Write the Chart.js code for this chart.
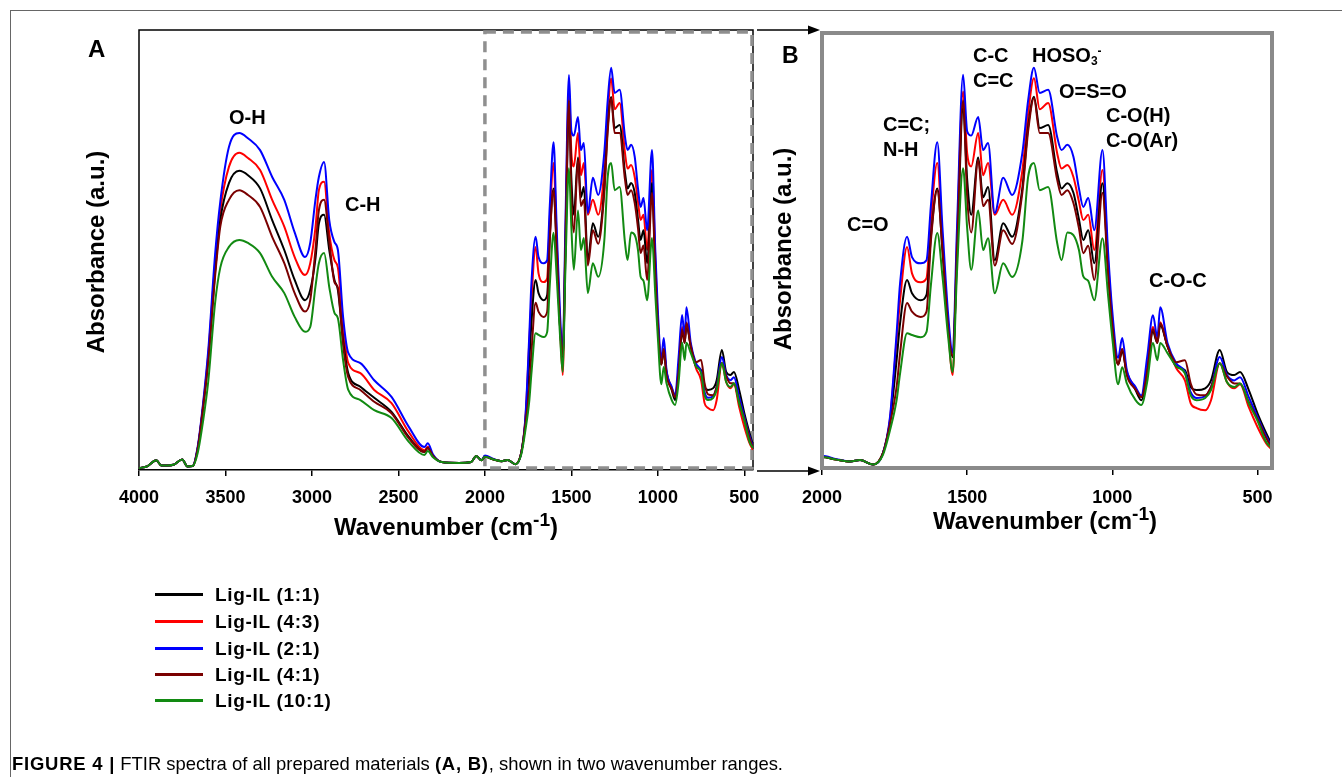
<!DOCTYPE html>
<html><head><meta charset="utf-8">
<script src="https://cdn.jsdelivr.net/npm/chart.js@4.4.1/dist/chart.umd.min.js"></script>
<style>
html,body{margin:0;padding:0;background:#fff;}
#page{position:relative;width:1342px;height:777px;overflow:hidden;background:#fff;font-family:"Liberation Sans",Arial,Helvetica,sans-serif;color:#000;}
canvas{position:absolute;top:0;}
#cA{left:0;}
#cB{left:780px;}
.t{position:absolute;white-space:nowrap;font-weight:bold;line-height:1;}
.rot{position:absolute;white-space:nowrap;font-weight:bold;line-height:1;transform:translate(-50%,-50%) rotate(-90deg);}
.xt{position:absolute;white-space:nowrap;font-weight:bold;line-height:1;transform:translateX(-50%);}
.xt sup{font-size:0.8em;vertical-align:0.45em;line-height:0;}
.sub{font-size:0.6em;vertical-align:-0.25em;}
.sup{font-size:0.6em;vertical-align:0.6em;}
.lg{position:absolute;height:3px;width:48px;left:155px;}
.lgt{letter-spacing:0.7px;}
#caption{position:absolute;left:12px;top:754px;font-size:19px;line-height:1;white-space:nowrap;transform-origin:0 0;}
#caption b{letter-spacing:0.8px;}
svg{position:absolute;left:0;top:0;}
</style>
</head><body>
<div id="page">
<canvas id="cA" width="780" height="560"></canvas>
<canvas id="cB" width="562" height="560"></canvas>
<svg width="1342" height="777">
  <line x1="10" y1="10.5" x2="1342" y2="10.5" stroke="#666" stroke-width="1"/>
  <line x1="10.5" y1="10" x2="10.5" y2="777" stroke="#666" stroke-width="1"/>
  <line x1="757" y1="30" x2="811" y2="30" stroke="#000" stroke-width="1.5"/>
  <polygon points="820,30 808,25.5 808,34.5" fill="#000"/>
  <line x1="757" y1="471" x2="811" y2="471" stroke="#000" stroke-width="1.5"/>
  <polygon points="820,471 808,466.5 808,475.5" fill="#000"/>
</svg>
<div id="labels"></div>
<div id="caption"><b>FIGURE 4 |</b> FTIR spectra of all prepared materials <b>(A, B)</b>, shown in two wavenumber ranges.</div>
</div>
<script>
// ---------------- DATA ----------------
const wavenumbers = [4000,3950,3900,3870,3800,3750,3720,3690,3660,3630,3600,3560,3530,3480,3420,3370,3300,3230,3160,3100,3040,3010,2980,2960,2930,2900,2870,2850,2820,2790,2720,2640,2540,2440,2350,2330,2300,2250,2150,2080,2050,2020,
2000,1950,1903,1869,1824,1790,1766,1743,1731,1707,1690,1660,1640,1625,1603,1585,1565,1550,1535,1514,1500,1486,1462,1445,1428,1405,1376,1345,1310,1290,1270,1250,1221,1190,1175,1155,1134,1115,1100,1083,1062,1034,1015,1000,980,966,950,920,900,880,860,845,835,810,780,750,730,710,680,660,630,605,580,560,530,500,470,450];

const lig_1_1 = [0.4,0.9,2.2,1.0,1.2,2.4,0.8,0.9,5,14,25,45,56.8,65.2,68,67,64,56.8,50,43.2,38.6,40.9,48,56,58,50,43.2,40.9,29.5,22,18.9,16.4,13.2,7.5,4.1,5,3.2,1.8,1.6,1.8,3.2,2.2,
3.0,2.4,2.0,2.3,1.3,3.9,11,25,33.4,43.2,40.2,38.6,39.8,53,64,50,32,25.7,48,82.5,66,58,71,62,64.3,47.7,56.1,53,64,78,84.8,77.7,78.4,67.5,64,65.2,63,57,52.3,54.5,47,65.2,46,33,24,27,22,18.2,15.9,22.3,31.5,28.9,33,28.2,23.6,22.7,18.9,18.2,18.6,20.4,27.3,22.3,21.6,22.3,18.2,12.9,8.4,5.7];

const lig_4_3 = [0.4,0.9,2.2,1.0,1.2,2.4,0.8,0.9,5,14.5,26,47,59,68.9,72.1,70.9,68.2,61.4,55.3,48.4,44.3,47,55,63.6,65.5,53.8,47.7,46,32.5,24.3,22,18.2,15.2,8.6,4.5,5.3,3.2,1.8,1.6,1.8,3.2,2.2,
3.0,2.4,2.0,2.3,1.3,3.9,11.5,29.5,38.6,50.7,44.7,42.7,43.6,57,69.8,52,32,21.6,52,86,72,69,76.6,67,69.8,58,61.4,58,68,81,89,82,83.4,72,68.5,69.3,66.6,61,56.8,58,50,68.2,48,34,24,27.5,22.3,18.6,16.6,23,32.5,29.5,33.6,28.2,23.2,20.4,15.2,14.1,13.6,15.9,24.3,20,18.6,19.5,14.3,9.8,6.1,4.6];

const lig_2_1 = [0.4,0.9,2.2,1.0,1.2,2.4,0.8,0.9,5.5,15,27,49,61,73.4,76.6,75.4,72.7,66.6,61.4,54,48.4,51.6,61.4,66.6,70,56.8,51.8,50,34.8,26.6,24.3,20.4,16.6,9.8,5.2,6.1,3.5,1.8,1.6,1.8,3.2,2.2,
3.3,2.5,2.0,2.3,1.3,3.9,12,31.1,42.5,53,48.4,47,47.7,60,74.5,55,35,26.6,55,89.8,77,76,80.2,72.7,74.3,58.4,66.4,62.5,72,84,91.4,85.7,86.4,75.7,72.7,73.9,71.2,64,59.8,61.8,54.5,72.7,50,36,25.5,30,22.7,18.9,17,25.7,35.2,30.2,37,28.9,24.3,22.3,17.7,16.4,16.8,18.9,25.7,21.6,20.4,21.1,16.6,12.1,7.7,5.3];

const lig_4_1 = [0.4,0.9,2.2,1.0,1.2,2.4,0.8,0.9,5,14,24.5,44,55.3,61.4,63.6,62.5,59.8,53,47,40.2,36,38.6,50,59,61.4,52,42.7,41.4,28.5,21.1,18.2,15.5,12.9,7.2,4.1,5,3.2,1.8,1.6,1.8,3.2,2.2,
3.0,2.4,2.0,2.3,1.3,3.9,10.5,18.9,26.6,38,36,34.8,36,52,63.6,50,32,26,50,84,62,54,70.5,60,61.4,46.5,54.5,51.4,63,77,84.5,76.6,76.6,66,62.5,63.6,60.7,55,49.3,51,43.2,63,45,33,24,27.5,21.5,18.4,16.6,22.3,32,28.9,33.4,28.2,24.5,25,19.7,17.2,17,18.9,24.3,21.3,19.7,19.7,15.5,11.6,7.3,5];

const lig_10_1 = [0.4,0.9,2.2,1.0,1.2,2.4,0.8,0.9,4,11,20,38,46,50.7,52.3,51.6,49.3,43.9,40.2,34.8,31.4,32.5,41.6,47,49.3,41.6,35.7,34.5,25,18.2,15.9,13.6,11.8,6.4,3.4,4.3,2.9,1.8,1.6,1.8,3.2,2.2,
3.0,2.4,2.0,2.3,1.3,3.5,9,15.9,22,31.1,30.7,30.2,31.4,42,53.9,44,30,22.3,45,68.6,55,45.5,59,50,52.7,40.2,47,43.9,52,66.6,69.8,63.6,64.3,51.6,47.7,54,53.4,50,44,43,38.6,52.7,40,30,19.5,23.4,19.7,15.9,14.8,20,28.9,25,28.9,26.6,23.6,22,17,15.9,16.4,18.2,24.3,20,18.9,19.7,15.2,11.2,6.4,5];

const seriesNames = ['Lig-IL (1:1)','Lig-IL (4:3)','Lig-IL (2:1)','Lig-IL (4:1)','Lig-IL (10:1)'];
const seriesValues = [lig_1_1, lig_4_3, lig_2_1, lig_4_1, lig_10_1];
const seriesColors = ['#000000','#ff0000','#0000ff','#7a0000','#128a12'];
const seriesOrder = [4,5,3,2,1];
const ticksA = [4000,3500,3000,2500,2000,1500,1000,500];
const ticksB = [2000,1500,1000,500];

// ---------------- CHARTS ----------------
function datasets(){
  return seriesValues.map((vals,i)=>({
    label: seriesNames[i],
    data: wavenumbers.map((w,j)=>({x:w,y:vals[j]})),
    borderColor: seriesColors[i],
    backgroundColor: seriesColors[i],
    borderWidth: 2,
    pointRadius: 0,
    cubicInterpolationMode: 'monotone',
    order: seriesOrder[i],
    fill: false
  }));
}

const framePluginA = {
  id: 'frameA',
  beforeDatasetsDraw(chart){
    const {ctx, chartArea:{left,top,right,bottom}} = chart;
    ctx.save();
    ctx.strokeStyle = '#000'; ctx.lineWidth = 1.5;
    ctx.beginPath();
    ctx.moveTo(left, bottom); ctx.lineTo(left, top); ctx.lineTo(right, top); ctx.lineTo(right, bottom);
    ctx.stroke();
    const x0 = chart.scales.x.getPixelForValue(2000);
    ctx.strokeStyle = '#8f8f8f'; ctx.lineWidth = 3.5; ctx.setLineDash([11,7]);
    ctx.strokeRect(x0, top + 2, right - 1 - x0, bottom - top - 4);
    ctx.restore();
  }
};
const framePluginB = {
  id: 'frameB',
  afterDatasetsDraw(chart){
    const {ctx, chartArea:{left,top,right,bottom}} = chart;
    ctx.save();
    ctx.strokeStyle = '#8a8a8a'; ctx.lineWidth = 4;
    ctx.strokeRect(left, top, right-left, bottom-top);
    ctx.restore();
  }
};

function makeChart(id, xmin, xmax, tickVals, pad, axisH, ymin, ymax, tickLen, tickPad, borderShow, plugin){
  return new Chart(document.getElementById(id), {
    type: 'line',
    data: { datasets: datasets() },
    options: {
      responsive: false, animation: false, devicePixelRatio: 1, events: [],
      layout: { padding: pad },
      plugins: { legend: {display:false}, tooltip: {enabled:false}, title:{display:false} },
      scales: {
        x: {
          type: 'linear', reverse: true, min: xmin, max: xmax,
          afterBuildTicks: s => { s.ticks = tickVals.map(v => ({value: v})); },
          afterFit: s => { s.height = axisH; },
          ticks: { includeBounds:false, autoSkip:false, maxRotation:0, color:'#000', padding: tickPad,
                   font: {family:'"Liberation Sans", Arial, sans-serif', size:18, weight:'bold'},
                   callback: v => String(v) },
          grid: { display:true, drawOnChartArea:false, drawTicks:true, tickLength: tickLen, color:'#000', lineWidth:1.5 },
          border: { display: borderShow, color:'#000', width:1.5 }
        },
        y: { type:'linear', display:false, min: ymin, max: ymax }
      }
    },
    plugins: [plugin]
  });
}

makeChart('cA', 450, 4000, ticksA, {left:139, top:30, right:27, bottom:0}, 90, 0, 100, 6, 11, true, framePluginA);
makeChart('cB', 450, 2000, ticksB, {left:42, top:33, right:70, bottom:0}, 92, 0.5, 99.3, 7, 12, false, framePluginB);

// ---------------- TEXT ----------------
const L = document.getElementById('labels');
function txt(html, left, capTop, size, cls){
  const d = document.createElement('div');
  d.className = 't' + (cls ? ' ' + cls : ''); d.innerHTML = html;
  d.style.left = left + 'px'; d.style.top = (capTop - 0.13*size) + 'px'; d.style.fontSize = size + 'px';
  L.appendChild(d); return d;
}
function rot(html, cx, cy, size){
  const d = document.createElement('div');
  d.className = 'rot'; d.innerHTML = html;
  d.style.left = cx + 'px'; d.style.top = cy + 'px'; d.style.fontSize = size + 'px';
  L.appendChild(d);
}
function xt(html, cx, capTop, size){
  const d = document.createElement('div');
  d.className = 'xt'; d.innerHTML = html;
  d.style.left = cx + 'px'; d.style.top = (capTop - 0.13*size) + 'px'; d.style.fontSize = size + 'px';
  L.appendChild(d);
}
txt('A', 88, 40, 24);
txt('B', 782, 47, 23);
txt('O-H', 229, 110, 20);
txt('C-H', 345, 197, 20);
txt('C=C;', 883, 117, 20);
txt('N-H', 883, 142, 20);
txt('C-C', 973, 48, 20);
txt('C=C', 973, 73, 20);
txt('HOSO<span class="sub">3</span><span class="sup">-</span>', 1032, 48, 20);
txt('O=S=O', 1059, 84, 20);
txt('C-O(H)', 1106, 108, 20);
txt('C-O(Ar)', 1106, 133, 20);
txt('C=O', 847, 217, 20);
txt('C-O-C', 1149, 273, 20);
rot('Absorbance (a.u.)', 96, 252, 24);
rot('Absorbance (a.u.)', 783, 249, 24);
xt('Wavenumber (cm<sup>-1</sup>)', 446, 518, 24);
xt('Wavenumber (cm<sup>-1</sup>)', 1045, 512, 24);

const legendY = [594, 621, 648, 674, 700];
seriesNames.forEach((n,i)=>{
  const ln = document.createElement('div');
  ln.className = 'lg'; ln.style.top = (legendY[i]-1.5)+'px'; ln.style.background = seriesColors[i];
  L.appendChild(ln);
  txt(n, 215, legendY[i] - 0.358*19, 19, 'lgt');
});

const cap = document.getElementById('caption');
const cw = cap.getBoundingClientRect().width;
cap.style.transform = 'scaleX(' + (771/cw) + ')';
</script>
</body></html>
